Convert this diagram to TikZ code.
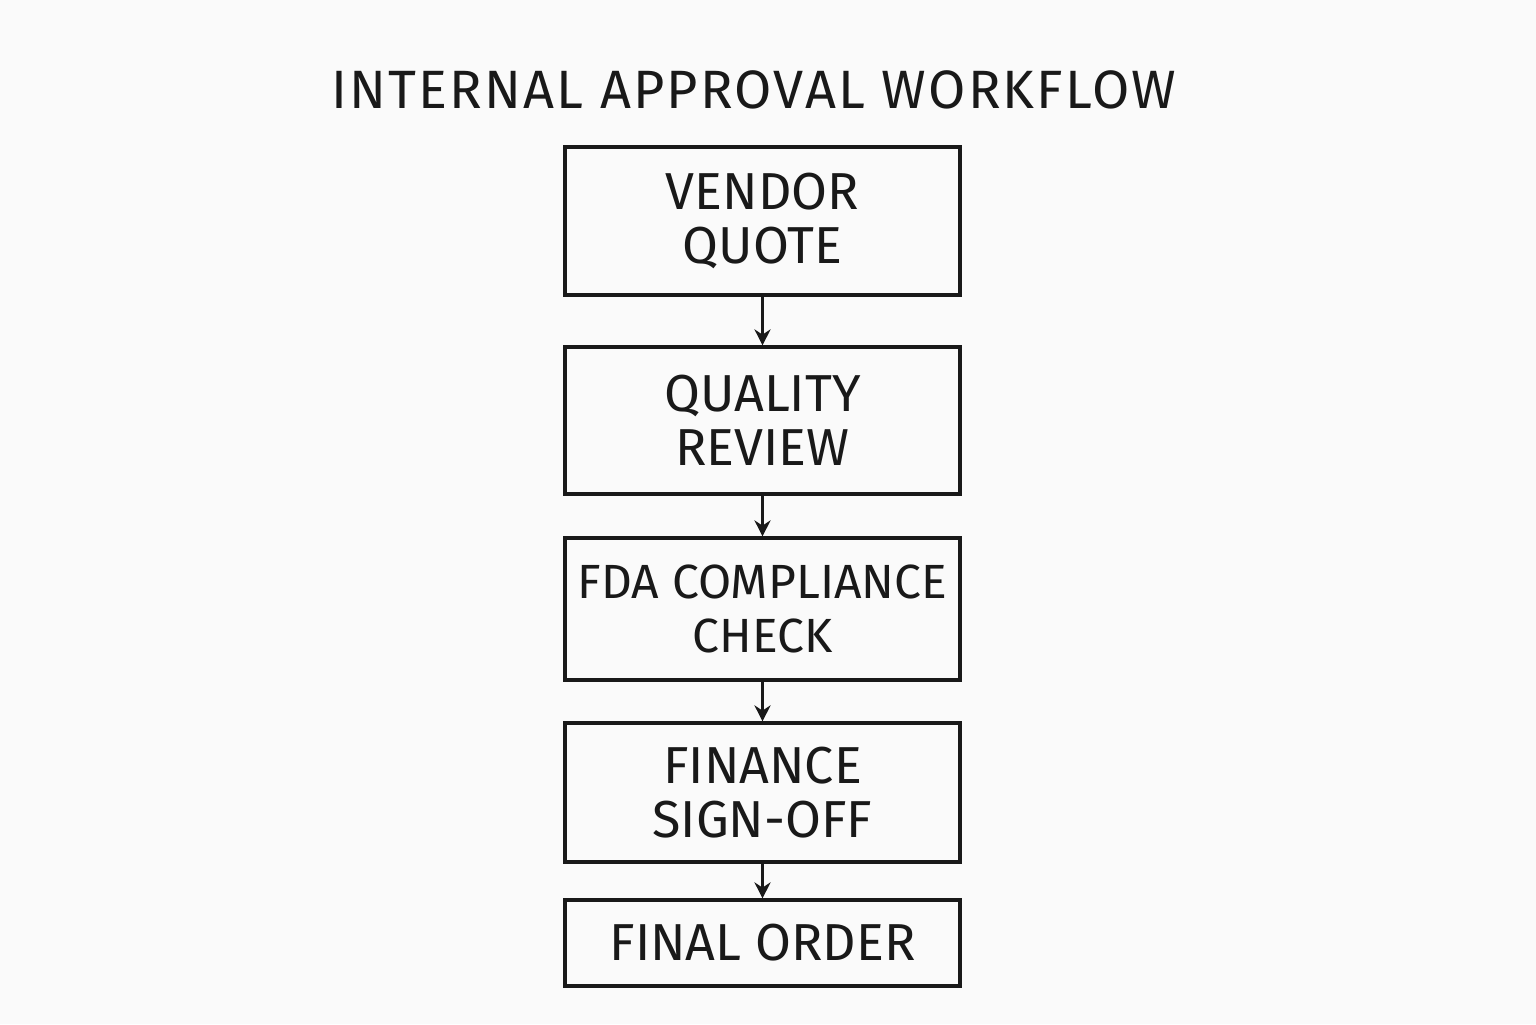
\documentclass[tikz,border=0pt]{standalone}
\usepackage{fontspec}
\setmainfont{Fira Sans}
\usetikzlibrary{arrows.meta}
\begin{document}
\begin{tikzpicture}[x=0.5pt,y=-0.5pt,
  stepbox/.style={draw=black!90,line width=1.6pt,minimum width=197.5pt,inner xsep=0pt,align=center,font=\fontsize{26}{27}\selectfont,text=black!90},
  arr/.style={line width=1.5pt,-{Stealth[length=8pt,width=8pt]},black!90}]
\fill[white!96!gray] (0,0) rectangle (1536,1024);
\useasboundingbox (0,0) rectangle (1536,1024);
\node[font=\fontsize{27}{28}\selectfont\addfontfeatures{LetterSpace=4},text=black!90] (t) at (754,90) {INTERNAL APPROVAL WORKFLOW};
\node[stepbox,minimum height=74pt] (a) at (762.5,221) {VENDOR\\QUOTE};
\node[stepbox,minimum height=73.5pt] (b) at (762.5,420.5) {QUALITY\\REVIEW};
\node[stepbox,minimum height=71pt,font=\fontsize{24}{27}\selectfont] (c) at (762.5,609) {FDA COMPLIANCE\\CHECK};
\node[stepbox,minimum height=69.5pt] (d) at (762.5,792.5) {FINANCE\\SIGN-OFF};
\node[stepbox,minimum height=43pt] (e) at (762.5,943) {FINAL ORDER};
\draw[arr] (a) -- (b);
\draw[arr] (b) -- (c);
\draw[arr] (c) -- (d);
\draw[arr] (d) -- (e);
\end{tikzpicture}
\end{document}
